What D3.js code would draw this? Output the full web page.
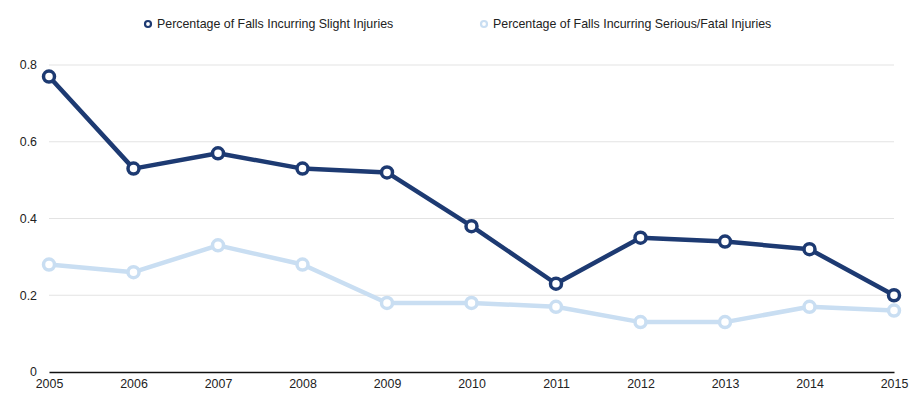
<!DOCTYPE html>
<html><head><meta charset="utf-8">
<script src="https://cdn.jsdelivr.net/npm/d3@7"></script>
<style>body{margin:0;background:#fff;font-family:"Liberation Sans",Arial,sans-serif;}</style>
</head><body>
<svg id="c" width="924" height="409"></svg>
<script>
const years = [2005,2006,2007,2008,2009,2010,2011,2012,2013,2014,2015];
const slight = [0.77,0.53,0.57,0.53,0.52,0.38,0.23,0.35,0.34,0.32,0.20];
const serious = [0.28,0.26,0.33,0.28,0.18,0.18,0.17,0.13,0.13,0.17,0.16];
const yTicks = [0,0.2,0.4,0.6,0.8];
const seriesNames = ["Percentage of Falls Incurring Slight Injuries","Percentage of Falls Incurring Serious/Fatal Injuries"];
const colors = ["#1d3a72","#c9def2"];

const svg = d3.select("#c");
const x = d3.scaleLinear().domain([2005,2015]).range([49,894]);
const y = d3.scaleLinear().domain([0,0.8]).range([372,65]);
const FS = 12.4;

// gridlines
svg.append("g").selectAll("line").data(yTicks.filter(d=>d>0)).join("line")
  .attr("x1",49).attr("x2",894).attr("y1",d=>y(d)).attr("y2",d=>y(d))
  .attr("stroke","#e3e3e3").attr("stroke-width",1);

// y axis labels
const yAxis = d3.axisLeft(y).tickValues(yTicks).tickFormat(d=>d===0?"0":d3.format(".1f")(d)).tickSize(0).tickPadding(12);
const gy = svg.append("g").attr("transform","translate(49,0)").call(yAxis);
gy.select(".domain").remove();
gy.selectAll("text").attr("font-size",FS).attr("fill","#222").attr("font-family","Liberation Sans, Arial, sans-serif");

// x axis
const xAxis = d3.axisBottom(x).tickValues(years).tickFormat(d3.format("d")).tickSize(0).tickPadding(7);
const gx = svg.append("g").attr("transform","translate(0,372)").call(xAxis);
gx.select(".domain").attr("stroke","#111").attr("stroke-width",1.5);
gx.selectAll("text").attr("font-size",FS).attr("fill","#222").attr("font-family","Liberation Sans, Arial, sans-serif");

const data = [slight, serious];
const line = d3.line().x((d,i)=>x(years[i])).y(d=>y(d));
[1,0].forEach(k=>{
  const g = svg.append("g");
  g.append("path").datum(data[k]).attr("d",line).attr("fill","none")
    .attr("stroke",colors[k]).attr("stroke-width",4.5).attr("stroke-linejoin","round");
  g.selectAll("circle").data(data[k]).join("circle")
    .attr("cx",(d,i)=>x(years[i])).attr("cy",d=>y(d)).attr("r",5.5)
    .attr("fill","#fff").attr("stroke",colors[k]).attr("stroke-width",3.5);
});

// legend
const legX = [148, 484];
seriesNames.forEach((n,k)=>{
  const g = svg.append("g").attr("transform",`translate(${legX[k]},24)`);
  g.append("circle").attr("r",3).attr("fill","#fff").attr("stroke",colors[k]).attr("stroke-width",2.2);
  g.append("text").attr("x",9).attr("y",4.3).attr("font-size",FS).attr("fill","#222")
    .attr("font-family","Liberation Sans, Arial, sans-serif").text(n);
});
</script>
</body></html>
